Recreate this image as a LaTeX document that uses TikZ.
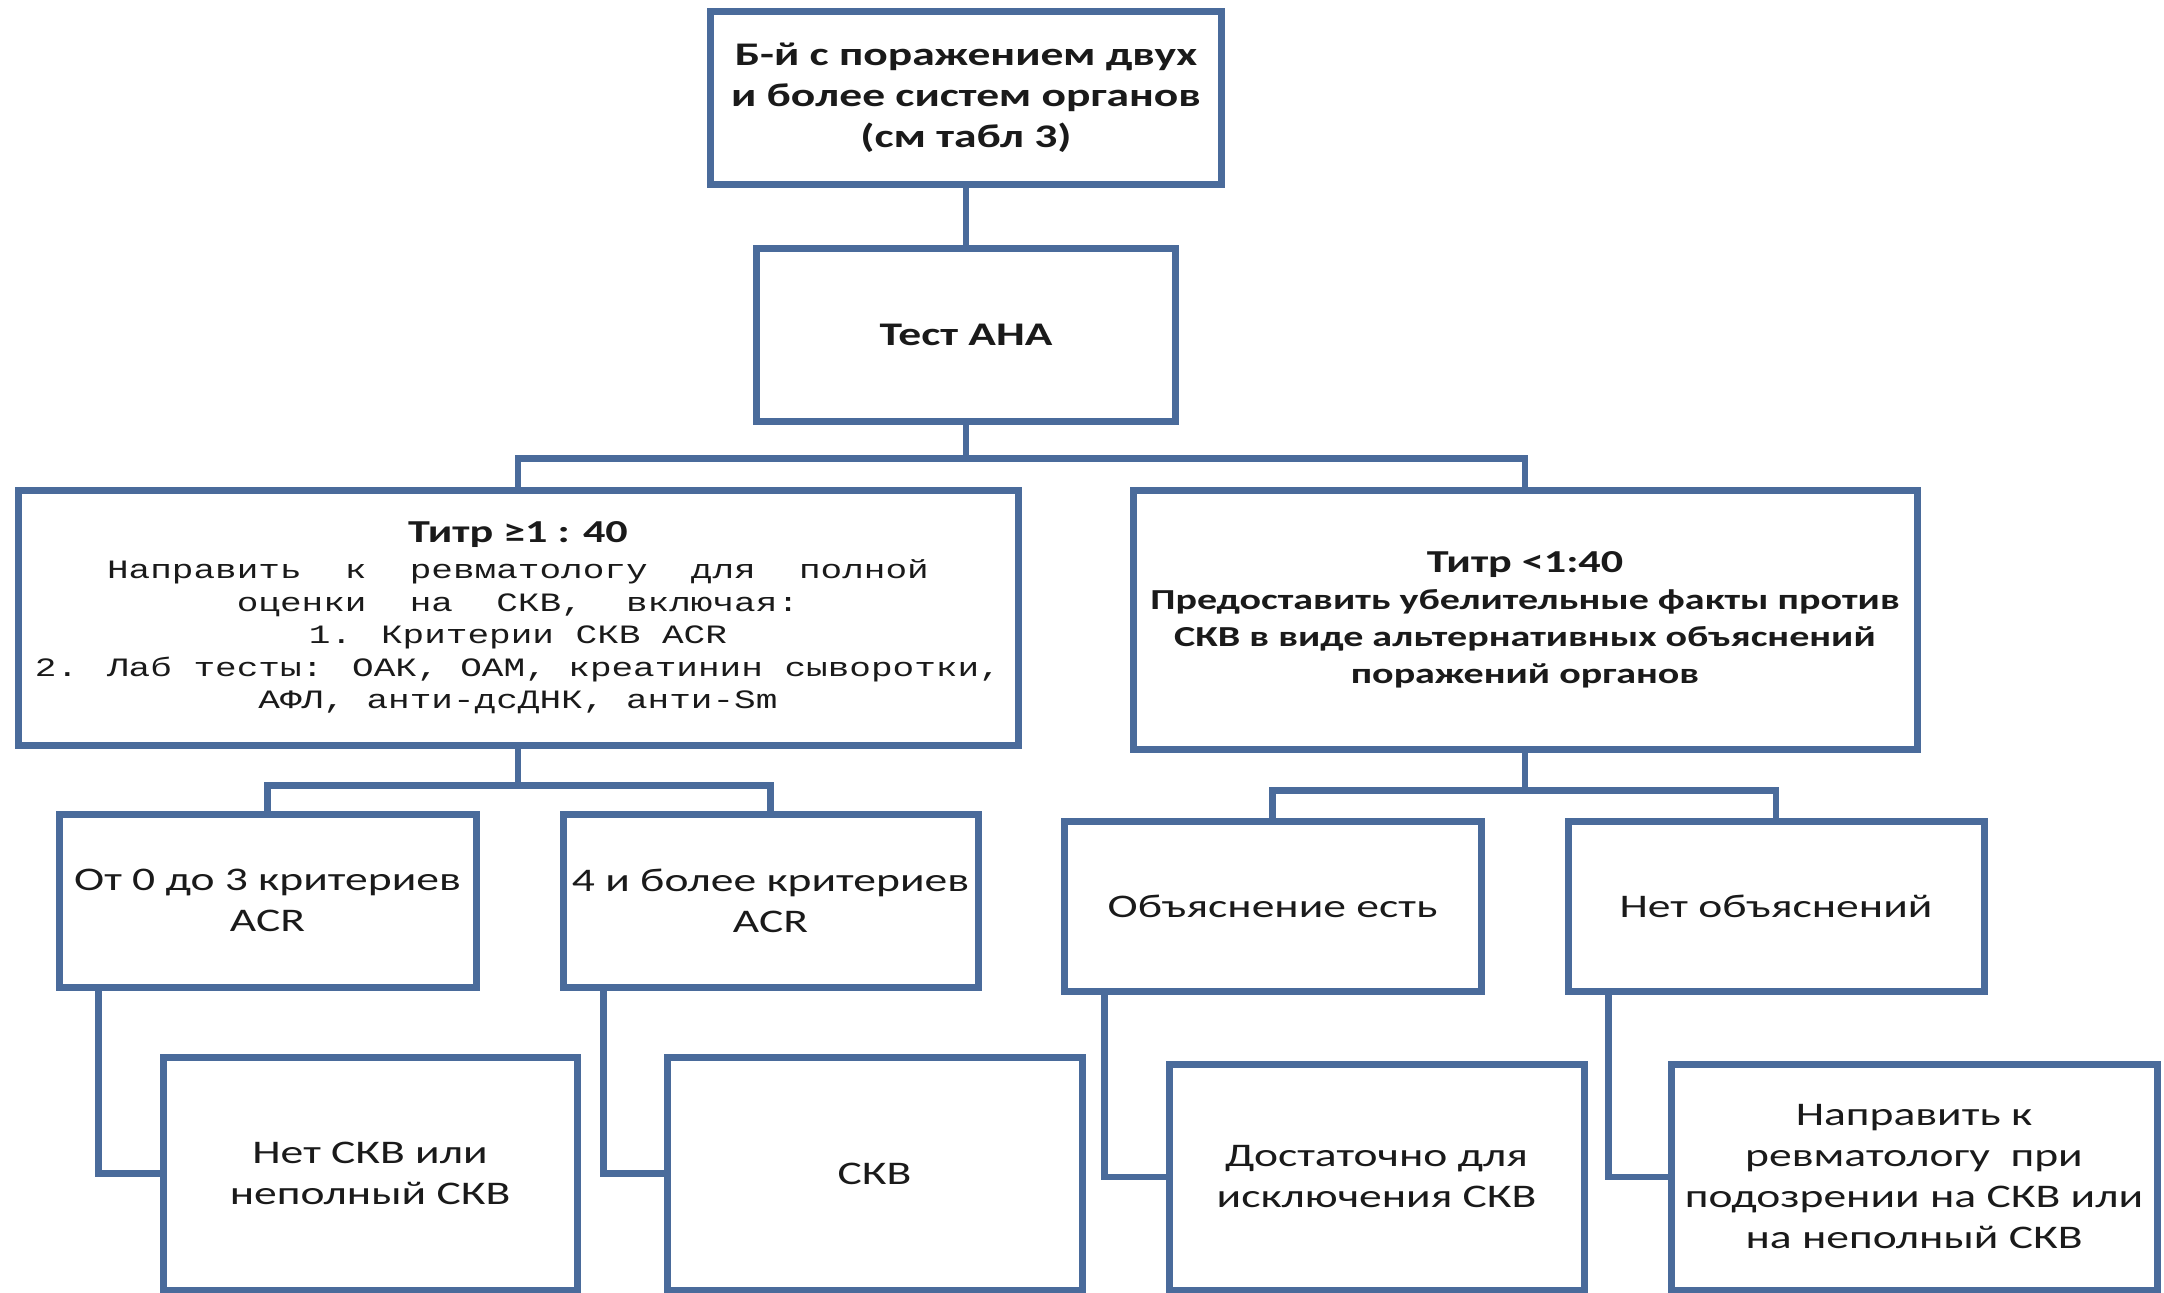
\documentclass[tikz,border=0pt]{standalone}
\usepackage{fontspec}
\setmainfont{Carlito}[FakeStretch=1.38]
\newfontfamily\monof{Liberation Mono}[FakeStretch=1.36]
\definecolor{bord}{HTML}{4A6B9B}
\definecolor{halo}{HTML}{CCDAEC}
\definecolor{txt}{HTML}{1A1A1A}
\pgfdeclarelayer{background}
\pgfsetlayers{background,main}
\tikzset{
  fbox/.style={rectangle, draw=bord, line width=7pt, fill=white, inner sep=0pt,
    align=center, text=txt, font=\fontsize{33}{41}\selectfont},
  conn/.style={draw=bord, line width=6.5pt},
  haloline/.style={draw=halo, line width=14pt},
}
\begin{document}
\begin{tikzpicture}[x=1pt,y=-1pt]
\fill[white] (0,0) rectangle (2164,1293);
\useasboundingbox (0,0) rectangle (2164,1293);
\node[fbox, minimum width=511, minimum height=173, font=\bfseries\fontsize{33}{41}\selectfont] (top) at (966,97.5)
     {Б-й с поражением двух\\и более систем органов\\(см табл 3)};
\node[fbox, minimum width=419, minimum height=173, font=\bfseries\fontsize{33}{41}\selectfont] (ana) at (966,334.5)
     {Тест АНА};
\node[fbox, minimum width=1000, minimum height=255, font=\monof\fontsize{26.5}{32.5}\selectfont] (tL) at (518,617.5)
     {{\rmfamily\bfseries\fontsize{32}{36}\selectfont Титр ≥1 : 40}\\[4pt]
      Направить~~к~~ревматологу~~для~~полной\\
      оценки~~на~~СКВ,~~включая:\\
      1. Критерии СКВ ACR\\
      2. Лаб тесты: ОАК, ОАМ, креатинин сыворотки,\\
      АФЛ, анти-дсДНК, анти-Sm};
\node[fbox, minimum width=784, minimum height=259, font=\bfseries\fontsize{29}{37}\selectfont] (tR) at (1525,619.5)
     {{\fontsize{32}{37}\selectfont Титр <1:40}\\
      Предоставить убелительные факты против\\
      СКВ в виде альтернативных объяснений\\
      поражений органов};
\node[fbox, minimum width=417, minimum height=173] (c03) at (267.5,900.5)
     {От 0 до 3 критериев\\ACR};
\node[fbox, minimum width=415, minimum height=173] (c4) at (770.5,900.5)
     {4 и более критериев\\ACR};
\node[fbox, minimum width=417, minimum height=170] (yes) at (1272.5,906)
     {Объяснение есть};
\node[fbox, minimum width=416, minimum height=170] (no) at (1776,906)
     {Нет объяснений};
\node[fbox, minimum width=414, minimum height=233] (b1) at (370,1173.5)
     {Нет СКВ или\\неполный СКВ};
\node[fbox, minimum width=415, minimum height=233] (b2) at (874.5,1173.5)
     {СКВ};
\node[fbox, minimum width=415, minimum height=226] (b3) at (1376.5,1177)
     {Достаточно для\\исключения СКВ};
\node[fbox, minimum width=486, minimum height=226] (b4) at (1914,1177)
     {Направить к\\ревматологу~~при\\подозрении на СКВ или\\на неполный СКВ};
\begin{pgfonlayer}{background}
\foreach \n in {top,ana,tL,tR,c03,c4,yes,no,b1,b2,b3,b4}
  \draw[haloline] (\n.south west) rectangle (\n.north east);
\end{pgfonlayer}
\draw[conn] (top.south) -- (ana.north);
\draw[conn] (ana.south) -- ++(0,34) coordinate (busM) -| (tL.north);
\draw[conn] (busM) -| (tR.north);
\draw[conn] (tL.south) -- ++(0,37) coordinate (busL) -| (c03.north);
\draw[conn] (busL) -| (c4.north);
\draw[conn] (tR.south) -- ++(0,38) coordinate (busR) -| (yes.north);
\draw[conn] (busR) -| (no.north);
\draw[conn] ([xshift=43pt]c03.south west) |- (b1.west);
\draw[conn] ([xshift=44pt]c4.south west) |- (b2.west);
\draw[conn] ([xshift=44pt]yes.south west) |- (b3.west);
\draw[conn] ([xshift=44pt]no.south west) |- (b4.west);
\end{tikzpicture}
\end{document}
